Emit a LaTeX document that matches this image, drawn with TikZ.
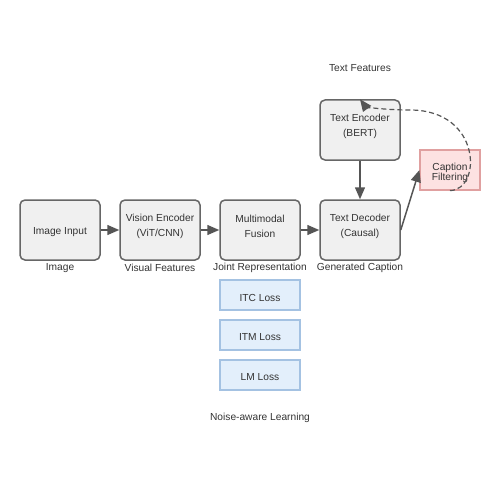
\documentclass[tikz,border=0pt]{standalone}
\usepackage{fontspec}
\setmainfont{Liberation Sans}
\usetikzlibrary{arrows.meta}
\definecolor{boxfill}{HTML}{F0F0F0}
\definecolor{boxline}{HTML}{666666}
\definecolor{arr}{HTML}{555555}
\definecolor{txt}{HTML}{333333}
\definecolor{pinkfill}{HTML}{FDE2E2}
\definecolor{pinkline}{HTML}{E0A0A0}
\definecolor{bluefill}{HTML}{E3EFFB}
\definecolor{blueline}{HTML}{A4C2E2}
\begin{document}
\begin{tikzpicture}[x=1pt,y=-1pt,
  font=\fontsize{10.2}{15}\selectfont, text=txt,
  mainbox/.style={draw=boxline, fill=boxfill, line width=1.5pt, rounded corners=5pt,
    minimum width=80pt, minimum height=60pt, inner sep=0pt},
  boxtext/.style={align=center, inner sep=0pt},
  filterbox/.style={draw=pinkline, fill=pinkfill, line width=1.2pt,
    minimum width=60pt, minimum height=40pt, inner sep=0pt},
  lossbox/.style={draw=blueline, fill=bluefill, line width=1.2pt,
    minimum width=80pt, minimum height=30pt, inner sep=0pt},
  lbl/.style={inner sep=0pt},
  conn/.style={draw=arr, line width=1.5pt, -{Triangle[length=12pt,width=10pt]}},
  dconn/.style={draw=arr, line width=1.2pt, dash pattern=on 5pt off 3pt, -{Triangle[length=12pt,width=10pt]}}
]
\useasboundingbox (0,0) rectangle (500,500);
\node[mainbox] (img) at (60,230) {};
\node[mainbox] (vis) at (160,230) {};
\node[mainbox] (fus) at (260,230) {};
\node[mainbox] (dec) at (360,230) {};
\node[mainbox] (enc) at (360,130) {};
\node[filterbox] (cf) at (450,170) {};
\node[lossbox] (itc) at (260,295) {};
\node[lossbox] (itm) at (260,335) {};
\node[lossbox] (lm) at (260,375) {};
\node[boxtext] (imgt) at (60,232.5) {Image Input};
\node[boxtext] (vist) at (160,226) {Vision Encoder\\(ViT/CNN)};
\node[boxtext] (fust) at (260,226) {Multimodal\\Fusion};
\node[boxtext] (dect) at (360,226) {Text Decoder\\(Causal)};
\node[boxtext] (enct) at (360,126) {Text Encoder\\(BERT)};
\node[boxtext, font=\fontsize{10.2}{10}\selectfont] (cft) at (450,172.5) {Caption\\Filtering};
\node[boxtext] (itct) at (260,297.5) {ITC Loss};
\node[boxtext] (itmt) at (260,337.5) {ITM Loss};
\node[boxtext] (lmt) at (260,377.5) {LM Loss};
\node[lbl] (limg) at (60,268) {Image};
\node[lbl] (lvis) at (160,268) {Visual Features};
\node[lbl] (lfus) at (260,268) {Joint Representation};
\node[lbl] (ldec) at (360,268) {Generated Caption};
\node[lbl] (lenc) at (360,68) {Text Features};
\node[lbl] (lnoise) at (260,418) {Noise-aware Learning};
\draw[conn] (img.east) -- (vis.west);
\draw[conn] (vis.east) -- (fus.west);
\draw[conn] (fus.east) -- (dec.west);
\draw[conn] (enc.south) -- (dec.north);
\draw[conn] (dec.east) -- (cf.west);
\draw[dconn] (cf.south) .. controls (482,190) and (482,110) .. (410,110) .. controls (380,110) and (365,106) .. (enc.north);
\end{tikzpicture}
\end{document}
